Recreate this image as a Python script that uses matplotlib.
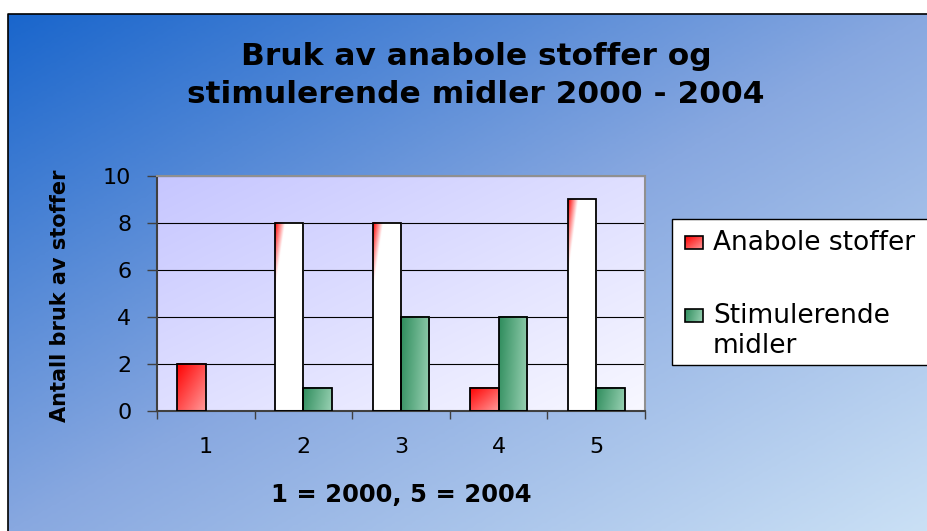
import numpy as np
import matplotlib
matplotlib.use("Agg")
import matplotlib.pyplot as plt
from matplotlib.colors import LinearSegmentedColormap, to_rgb
from matplotlib.patches import Rectangle

# ── Data ──────────────────────────────────────────────
years = ["1", "2", "3", "4", "5"]
anabole = [2, 8, 8, 1, 9]
stimulerende = [0, 1, 4, 4, 1]
yticks = [0, 2, 4, 6, 8, 10]

TITLE = "Bruk av anabole stoffer og\nstimulerende midler 2000 - 2004"
XLABEL = "1 = 2000, 5 = 2004"
YLABEL = "Antall bruk av stoffer"
LEGEND = ["Anabole stoffer", "Stimulerende\nmidler"]

# ── Style ─────────────────────────────────────────────
W, H = 928, 531
RED, WHITE = "#FF0000", "#FFFFFF"
GREEN_DARK, GREEN_LIGHT = "#2E8C5C", "#9AD2B4"
AXIS_DARK = "#404040"
AXIS_LIGHT = "#909090"


def blend(c0, c1, t):
    c0 = np.array(to_rgb(c0))
    c1 = np.array(to_rgb(c1))
    return c0 + (c1 - c0) * t[..., None]


vv, uu = np.mgrid[0:1:120j, 0:1:60j]


def red_fill(val):
    # short bars fade red -> pink, tall bars only keep a red corner
    span = 3.3 if val <= 2 else 0.35
    return blend(RED, WHITE, np.clip((uu + vv) / span, 0, 1))


def green_fill():
    return blend(GREEN_DARK, GREEN_LIGHT, np.clip(0.85 * uu + 0.15 * vv, 0, 1))


fig = plt.figure(figsize=(W / 100, H / 100), dpi=100)
fig.patch.set_facecolor("white")

# background panel, pixel coordinates (y down)
bg = fig.add_axes([0, 0, 1, 1], zorder=-10)
yy, xx = np.mgrid[0:1:200j, 0:1:300j]
bg_cmap = LinearSegmentedColormap.from_list(
    "bg", [(0, "#1A66CC"), (0.5, "#88A8E0"), (1, "#CAE0F5")])
bg.imshow(bg_cmap((xx + yy) / 2), extent=[8, W, H, 14],
          aspect="auto", interpolation="bilinear")
bg.plot([8, 8, W], [H, 14, 14], color="black", lw=1.2)
bg.set_xlim(0, W)
bg.set_ylim(H, 0)
bg.axis("off")

bg.text(476, 103, TITLE, ha="center", va="baseline", fontsize=22.5,
        fontweight="bold", linespacing=1.4)

# legend box
bg.add_patch(Rectangle((672, 219), 300, 146, facecolor="white",
                       edgecolor="black", lw=1, zorder=3))
for top, fill in [(236, red_fill(2)), (309, green_fill())]:
    bg.imshow(fill, extent=[685, 703, top + 13, top], aspect="auto",
              interpolation="bilinear", zorder=4)
    bg.add_patch(Rectangle((685, top), 18, 13, facecolor="none",
                           edgecolor="black", lw=1.2, zorder=5))
bg.text(713, 250, LEGEND[0], fontsize=19, va="baseline", zorder=5)
bg.text(713, 353, LEGEND[1], fontsize=19, va="baseline",
        linespacing=1.2, zorder=5)
bg.set_xlim(0, W)
bg.set_ylim(H, 0)

# ── Plot area ─────────────────────────────────────────
ax = fig.add_axes([157 / W, 1 - 411 / H, 488 / W, 235 / H])
ax.set_facecolor("none")
ax.imshow(blend("#C6C6FF", "#F8F8FF", (xx + yy) / 2), extent=[0, 1, 0, 1],
          transform=ax.transAxes, aspect="auto", interpolation="bilinear",
          zorder=0)

x = np.arange(len(years))
bw = 0.29
red_bars = ax.bar(x - bw, anabole, bw, align="edge", facecolor="none",
                  edgecolor="black", lw=1.3, zorder=3)
green_bars = ax.bar(x, stimulerende, bw, align="edge", facecolor="none",
                    edgecolor="black", lw=1.3, zorder=3)

for bar, val in zip(red_bars, anabole):
    if val > 0:
        ax.imshow(red_fill(val),
                  extent=[bar.get_x(), bar.get_x() + bar.get_width(),
                          0, bar.get_height()],
                  aspect="auto", interpolation="bilinear", zorder=2)
for bar, val in zip(green_bars, stimulerende):
    if val > 0:
        ax.imshow(green_fill(),
                  extent=[bar.get_x(), bar.get_x() + bar.get_width(),
                          0, bar.get_height()],
                  aspect="auto", interpolation="bilinear", zorder=2)
    else:
        bar.set_linewidth(0)

ax.set_xlim(-0.5, len(years) - 0.5)
ax.set_ylim(0, 10)
ax.set_axisbelow(True)
ax.yaxis.grid(True, color="black", lw=0.8)

ax.set_yticks(yticks)
ax.tick_params(axis="y", direction="out", length=7.5, width=1,
               color=AXIS_DARK, labelsize=16, pad=11)
ax.set_xticks(np.arange(len(years) + 1) - 0.5, [""] * (len(years) + 1))
ax.set_xticks(x, years, minor=True)
ax.tick_params(axis="x", which="major", direction="out", length=6,
               width=1, color=AXIS_DARK)
ax.tick_params(axis="x", which="minor", length=0, labelsize=16, pad=19)

for side in ["left", "bottom"]:
    ax.spines[side].set_color(AXIS_DARK)
    ax.spines[side].set_linewidth(1.5)
for side in ["top", "right"]:
    ax.spines[side].set_color(AXIS_LIGHT)
    ax.spines[side].set_linewidth(1.5)

ax.set_xlabel(XLABEL, fontsize=17.5, fontweight="bold")
ax.xaxis.set_label_coords(0.5, (411 - 502) / 235)
ax.xaxis.label.set_va("baseline")
ax.set_ylabel(YLABEL, fontsize=15, fontweight="bold")
ax.yaxis.set_label_coords((60 - 157) / 488, 0.489)
ax.yaxis.label.set_va("center")

fig.savefig("out.png", dpi=100)
